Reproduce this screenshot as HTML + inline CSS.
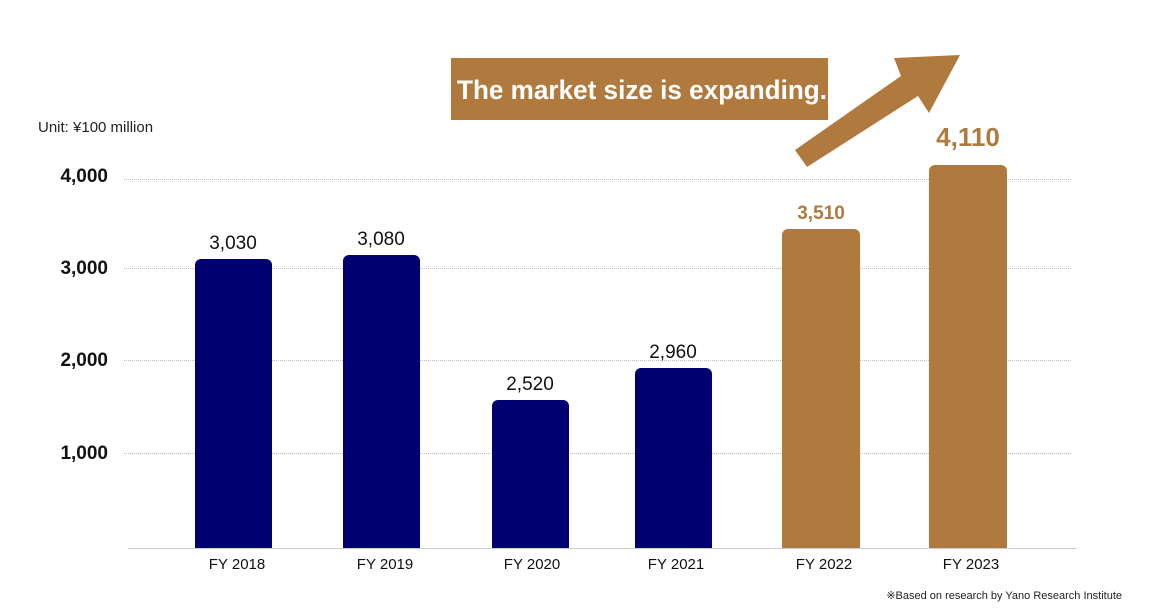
<!DOCTYPE html>
<html><head><meta charset="utf-8"><style>
body{margin:0;width:1160px;height:610px;background:#fff;overflow:hidden;font-family:"Liberation Sans",sans-serif}
</style></head><body>
<svg width="1160" height="610" viewBox="0 0 1160 610" xmlns="http://www.w3.org/2000/svg" font-family="Liberation Sans, sans-serif">
<g stroke="#bbb" stroke-width="1" stroke-dasharray="1,1">
<line x1="124" y1="179.5" x2="1072" y2="179.5"/>
<line x1="124" y1="268.5" x2="1072" y2="268.5"/>
<line x1="124" y1="360.5" x2="1072" y2="360.5"/>
<line x1="124" y1="453.5" x2="1072" y2="453.5"/>
</g>
<line x1="128" y1="548.5" x2="1076" y2="548.5" stroke="#ccc"/>
<text x="38" y="132" font-size="15" fill="#222">Unit: ¥100 million</text>
<g font-size="19" font-weight="bold" fill="#111" text-anchor="end">
<text x="108" y="182">4,000</text>
<text x="108" y="274">3,000</text>
<text x="108" y="366">2,000</text>
<text x="108" y="459">1,000</text>
</g>
<g fill="#000070">
<path d="M195 548V265a6 6 0 0 1 6-6h65a6 6 0 0 1 6 6V548z"/>
<path d="M343 548V261a6 6 0 0 1 6-6h65a6 6 0 0 1 6 6V548z"/>
<path d="M492 548V406a6 6 0 0 1 6-6h65a6 6 0 0 1 6 6V548z"/>
<path d="M635 548V374a6 6 0 0 1 6-6h65a6 6 0 0 1 6 6V548z"/>
</g>
<g fill="#B07A3E">
<path d="M782 548V235a6 6 0 0 1 6-6h66a6 6 0 0 1 6 6V548z"/>
<path d="M929 548V171a6 6 0 0 1 6-6h66a6 6 0 0 1 6 6V548z"/>
<rect x="451" y="58" width="377" height="62"/>
<polygon points="795,150 901,76 894,58 960,55 929,113 918,96 807,167"/>
</g>
<text x="457" y="99" font-size="27" font-weight="bold" fill="#fff" textLength="370" lengthAdjust="spacingAndGlyphs">The market size is expanding.</text>
<g font-size="19" fill="#111" text-anchor="middle">
<text x="233" y="249">3,030</text>
<text x="381" y="245">3,080</text>
<text x="530" y="390">2,520</text>
<text x="673" y="358">2,960</text>
</g>
<text x="821" y="219" font-size="19" font-weight="bold" fill="#B07A3E" text-anchor="middle">3,510</text>
<text x="968" y="146" font-size="26" font-weight="bold" fill="#B07A3E" text-anchor="middle">4,110</text>
<g font-size="15" fill="#111" text-anchor="middle">
<text x="237" y="569">FY 2018</text>
<text x="385" y="569">FY 2019</text>
<text x="532" y="569">FY 2020</text>
<text x="676" y="569">FY 2021</text>
<text x="824" y="569">FY 2022</text>
<text x="971" y="569">FY 2023</text>
</g>
<text x="1122" y="599" font-size="11" fill="#222" text-anchor="end">※Based on research by Yano Research Institute</text>
</svg>
</body></html>
